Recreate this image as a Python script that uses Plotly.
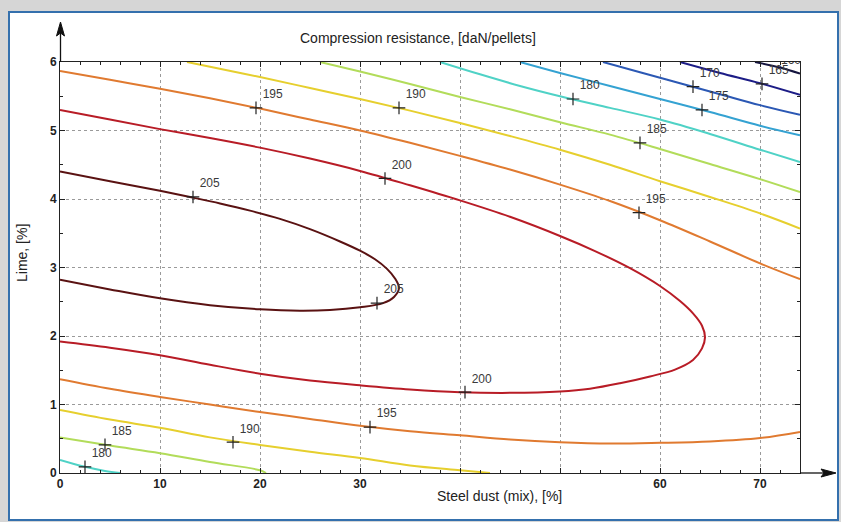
import plotly.graph_objects as go

# ---- contour lines (Steel dust %, Lime %) ----
lvl160_x = [69.5, 72.0, 74.0]
lvl160_y = [6.00, 5.92, 5.83]

lvl165_x = [62.0, 66.0, 70.0, 74.0]
lvl165_y = [6.00, 5.84, 5.69, 5.52]

lvl170_x = [54.3, 58.0, 62.0, 66.0, 70.0, 74.0]
lvl170_y = [6.00, 5.85, 5.69, 5.53, 5.37, 5.23]

lvl175_x = [46.0, 50.0, 55.0, 60.0, 65.0, 70.0, 74.0]
lvl175_y = [6.00, 5.84, 5.65, 5.46, 5.27, 5.07, 4.93]

lvl180_top_x = [38.0, 42.0, 46.0, 50.0, 55.0, 60.0, 65.0, 70.0, 74.0]
lvl180_top_y = [6.00, 5.82, 5.65, 5.50, 5.33, 5.16, 4.95, 4.72, 4.54]
lvl180_bot_x = [0.0, 2.5, 4.5, 6.0]
lvl180_bot_y = [0.19, 0.09, 0.03, 0.00]

lvl185_top_x = [26.0, 30.0, 35.0, 40.0, 45.0, 50.0, 55.0, 60.0, 65.0, 70.0, 74.0]
lvl185_top_y = [6.00, 5.86, 5.68, 5.49, 5.31, 5.12, 4.94, 4.73, 4.51, 4.29, 4.10]
lvl185_bot_x = [0.0, 5.0, 10.0, 15.0, 20.0, 20.6]
lvl185_bot_y = [0.52, 0.40, 0.29, 0.16, 0.04, 0.00]

lvl190_top_x = [12.7, 15.0, 20.0, 25.0, 30.0, 35.0, 40.0, 45.0, 50.0, 55.0, 60.0, 65.0, 70.0, 74.0]
lvl190_top_y = [6.00, 5.93, 5.78, 5.62, 5.46, 5.29, 5.11, 4.92, 4.72, 4.50, 4.26, 4.03, 3.79, 3.57]
lvl190_bot_x = [0.0, 5.0, 10.0, 15.0, 20.0, 25.0, 30.0, 35.0, 40.0, 43.0]
lvl190_bot_y = [0.92, 0.78, 0.66, 0.52, 0.41, 0.31, 0.22, 0.11, 0.04, 0.00]

lvl195_top_x = [0.0, 5.0, 10.0, 15.0, 20.0, 25.0, 30.0, 35.0, 40.0, 45.0, 50.0, 55.0, 60.0, 65.0, 70.0, 74.0]
lvl195_top_y = [5.87, 5.74, 5.61, 5.47, 5.32, 5.16, 5.00, 4.82, 4.63, 4.43, 4.21, 3.97, 3.69, 3.38, 3.06, 2.83]
lvl195_bot_x = [0.0, 5.0, 10.0, 15.0, 20.0, 25.0, 30.0, 35.0, 40.0, 45.0, 50.0, 55.0, 60.0, 65.0, 70.0, 74.0]
lvl195_bot_y = [1.37, 1.23, 1.11, 1.00, 0.89, 0.79, 0.69, 0.61, 0.55, 0.49, 0.45, 0.43, 0.44, 0.46, 0.51, 0.60]

lvl200_x = [0.0, 5.0, 10.0, 15.0, 20.0, 25.0, 30.0, 35.0, 40.0, 45.0, 50.0, 53.0, 56.0, 59.0, 61.5,
            63.3, 64.2, 64.5, 64.2, 63.3, 62.0, 60.0, 57.0, 53.5, 50.0, 45.0, 40.0, 35.0, 30.0,
            25.0, 20.0, 15.0, 10.0, 5.0, 0.0]
lvl200_y = [1.92, 1.83, 1.72, 1.58, 1.45, 1.35, 1.28, 1.22, 1.18, 1.17, 1.19, 1.23, 1.31, 1.41, 1.51,
            1.65, 1.82, 1.98, 2.15, 2.33, 2.51, 2.73, 2.99, 3.24, 3.46, 3.74, 3.98, 4.20, 4.41,
            4.59, 4.75, 4.89, 5.02, 5.16, 5.30]

lvl205_x = [0.0, 5.0, 10.0, 15.0, 20.0, 24.0, 27.0, 30.0, 32.3, 33.4, 33.9, 33.5, 32.7, 31.5, 30.0,
            28.0, 25.0, 22.0, 19.0, 16.0, 13.3, 10.0, 5.0, 0.0]
lvl205_y = [2.82, 2.68, 2.55, 2.45, 2.39, 2.37, 2.38, 2.42, 2.48, 2.57, 2.70, 2.84, 2.98, 3.12, 3.245,
            3.38, 3.56, 3.71, 3.83, 3.935, 4.02, 4.12, 4.26, 4.40]

# ---- contour labels ----
label_x = [19.6, 33.9, 51.3, 63.3, 70.2, 64.2, 58.0, 57.9, 32.5, 13.3, 31.7, 40.5, 31.0, 17.3, 4.5, 2.5]
label_y = [5.33, 5.33, 5.46, 5.64, 5.68, 5.30, 4.82, 3.80, 4.30, 4.03, 2.48, 1.18, 0.67, 0.45, 0.41, 0.09]
label_text = ["195", "190", "180", "170", "165", "175", "185", "195", "200", "205", "205", "200",
              "195", "190", "185", "180"]

x_tick_vals = [0, 10, 20, 30, 40, 50, 60, 70]
x_tick_text = ["0", "10", "20", "30", "", "", "60", "70"]
y_tick_vals = [0, 1, 2, 3, 4, 5, 6]

level_colors = {
    160: "#15153f", 165: "#1c1c86", 170: "#2b58b4", 175: "#34a2d2", 180: "#4fd2c6",
    185: "#b2dc5a", 190: "#e6cf2e", 195: "#e07a30", 200: "#b81c26", 205: "#5a1212",
}

lines = [
    (160, lvl160_x, lvl160_y), (165, lvl165_x, lvl165_y), (170, lvl170_x, lvl170_y),
    (175, lvl175_x, lvl175_y), (180, lvl180_top_x, lvl180_top_y), (180, lvl180_bot_x, lvl180_bot_y),
    (185, lvl185_top_x, lvl185_top_y), (185, lvl185_bot_x, lvl185_bot_y),
    (190, lvl190_top_x, lvl190_top_y), (190, lvl190_bot_x, lvl190_bot_y),
    (195, lvl195_top_x, lvl195_top_y), (195, lvl195_bot_x, lvl195_bot_y),
    (200, lvl200_x, lvl200_y), (205, lvl205_x, lvl205_y),
]

fig = go.Figure()

for lvl, xs, ys in lines:
    fig.add_trace(go.Scatter(
        x=xs, y=ys, mode="lines", line=dict(color=level_colors[lvl], width=2, shape="spline", smoothing=1.0),
        showlegend=False, hoverinfo="skip", cliponaxis=True,
    ))

fig.add_trace(go.Scatter(
    x=label_x, y=label_y, mode="markers+text", text=label_text, textposition="top right",
    textfont=dict(family="Liberation Sans, Arial", size=12, color="#3a3a3a"),
    marker=dict(symbol="cross-thin", size=9, line=dict(width=1.2, color="#222")),
    showlegend=False, hoverinfo="skip", cliponaxis=True,
))
# partly hidden label at the top-right corner
fig.add_trace(go.Scatter(
    x=[72.1], y=[5.93], mode="text", text=["160"], textposition="top right",
    textfont=dict(family="Liberation Sans, Arial", size=12, color="#3a3a3a"),
    showlegend=False, hoverinfo="skip", cliponaxis=True,
))

# geometry helpers (plot area: px 60..800 x, py 62..473 y)
L, R, T, B = 60, 800, 62, 473
def px(p):
    return (p - L) / (R - L)
def py(p):
    return (B - p) / (B - T)

shapes = [
    # white card with blue border
    dict(type="rect", xref="paper", yref="paper", x0=px(9), x1=px(838), y0=py(520), y1=py(12),
         fillcolor="white", line=dict(color="#3470ad", width=2), layer="below"),
    # y-axis arrow shaft + head
    dict(type="line", xref="paper", yref="paper", x0=px(60.5), x1=px(60.5), y0=py(62), y1=py(30),
         line=dict(color="#111", width=1.3)),
    dict(type="path", xref="paper", yref="paper",
         path=f"M {px(60.5)} {py(22)} L {px(56.5)} {py(36)} L {px(60.5)} {py(33)} L {px(64.5)} {py(36)} Z",
         fillcolor="#111", line=dict(color="#111", width=1)),
    # x-axis arrow shaft + head
    dict(type="line", xref="paper", yref="paper", x0=px(800), x1=px(828), y0=py(473), y1=py(473),
         line=dict(color="#111", width=1.3)),
    dict(type="path", xref="paper", yref="paper",
         path=f"M {px(836)} {py(473)} L {px(821)} {py(469)} L {px(824)} {py(473)} L {px(821)} {py(477)} Z",
         fillcolor="#111", line=dict(color="#111", width=1)),
]

title_font = dict(family="Liberation Sans, Arial", size=14, color="#222")
annotations = [
    dict(text="Compression resistance, [daN/pellets]", xref="paper", yref="paper",
         x=px(418), y=py(38), xanchor="center", yanchor="middle", showarrow=False, font=title_font),
    dict(text="Steel dust (mix), [%]", xref="paper", yref="paper",
         x=px(499), y=py(496), xanchor="center", yanchor="middle", showarrow=False, font=title_font),
    dict(text="Lime, [%]", xref="paper", yref="paper", textangle=-90,
         x=px(22), y=py(253), xanchor="center", yanchor="middle", showarrow=False, font=title_font),
]

axis_common = dict(
    showline=True, linecolor="#222", linewidth=1, mirror="ticks",
    ticks="inside", ticklen=5, tickcolor="#222", tickwidth=1,
    showgrid=True, gridcolor="#9a9a9a", griddash="dot", gridwidth=1,
    zeroline=False, fixedrange=True,
    tickfont=dict(family="Liberation Sans, Arial", size=12, color="#222", weight="bold"),
)

fig.update_layout(
    width=841, height=522,
    margin=dict(l=L, r=841 - R, t=T, b=522 - B),
    paper_bgcolor="#d6d6d6", plot_bgcolor="white",
    shapes=shapes, annotations=annotations,
    xaxis=dict(range=[0, 74], tickvals=x_tick_vals, ticktext=x_tick_text,
               minor=dict(dtick=2, tick0=0, ticks="inside", ticklen=3, tickcolor="#222", showgrid=False),
               **axis_common),
    yaxis=dict(range=[0, 6], tickvals=y_tick_vals,
               minor=dict(dtick=0.5, tick0=0, ticks="inside", ticklen=3, tickcolor="#222", showgrid=False),
               **axis_common),
)

fig.write_html(
    "out.html",
    config={"displayModeBar": False},
    post_script="document.body.style.margin='0';document.body.style.background='#d6d6d6';",
)
